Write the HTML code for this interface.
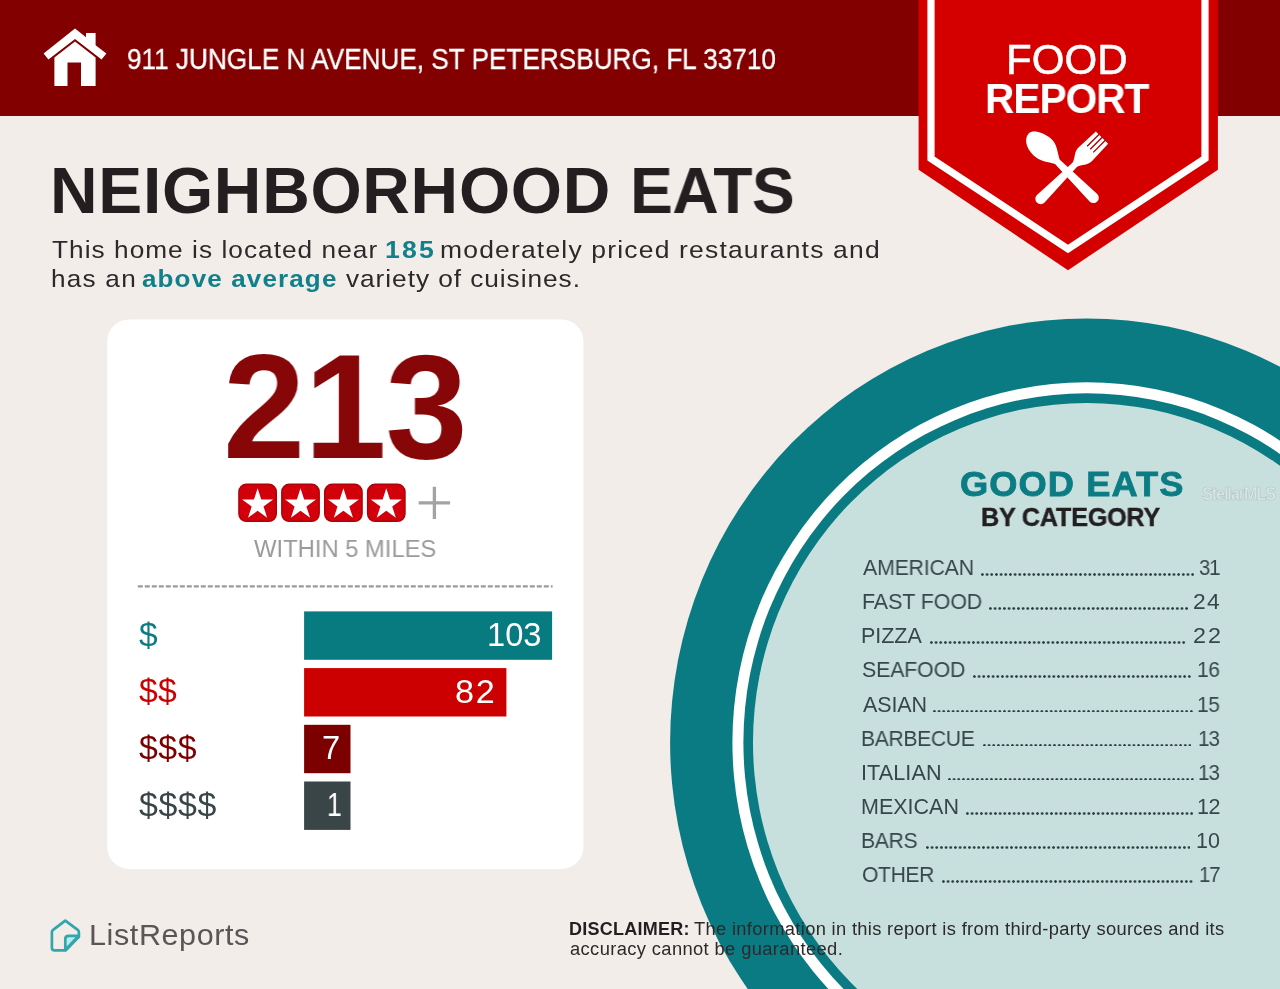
<!DOCTYPE html>
<html><head><meta charset="utf-8"><title>Food Report</title>
<style>
html,body{margin:0;padding:0}
body{width:1280px;height:989px;position:relative;overflow:hidden;background:#f2ede9;font-family:"Liberation Sans",sans-serif}
.t{position:absolute;white-space:nowrap;line-height:1;transform-origin:0 0;will-change:transform}
.a{position:absolute}
.dots{height:2.8px;background-image:radial-gradient(circle at 1.4px 1.4px,#2c4043 1.0px,rgba(44,64,67,0) 1.55px);background-size:4.675px 2.8px;background-repeat:repeat-x}
svg{position:absolute;left:0;top:0}
</style></head><body>
<svg width="1280" height="989" viewBox="0 0 1280 989">
<rect x="0" y="0" width="1280" height="116" fill="#830000"/>
<ellipse cx="1086.7" cy="742.5" rx="416.6" ry="424.1" fill="#0a7b82"/>
<ellipse cx="1086.7" cy="742.5" rx="354.3" ry="360.2" fill="#ffffff"/>
<ellipse cx="1086.7" cy="742.5" rx="343.3" ry="349.2" fill="#0a7b82"/>
<ellipse cx="1086.7" cy="742.5" rx="333.7" ry="339.4" fill="#c8e0dd"/>
<polygon points="918.6,0 918.6,169.8 1068,270.2 1217.9,169.8 1217.9,0" fill="#d40000"/>
<polyline points="931,-5 931,158.5 1068,248.9 1205,158.5 1205,-5" fill="none" stroke="#fff" stroke-width="7.2" stroke-linejoin="miter"/>
<g transform="translate(1067.6,171.9)">
<g transform="rotate(-45)"><path d="M0,-54.7 C5,-54.7 10.6,-46.5 11.8,-35.5 C12.5,-27 6.5,-21 3.2,-14.5 L5.4,36.5 A5.4,5.4 0 0 1 -5.4,36.5 L-3.2,-14.5 C-6.5,-21 -12.4,-27 -12.4,-36 C-12.4,-47 -7,-54.7 0,-54.7 Z" fill="#fff"/></g>
<g transform="rotate(45)"><path d="M-8.7,-48.6 L8.7,-48.6 L9.6,-25 C9.6,-18 4.5,-16 3.1,-10 L5.4,38 A5.4,5.4 0 0 1 -5.4,38 L-3.1,-10 C-4.5,-16 -9.6,-18 -9.6,-25 Z" fill="#fff"/>
<path d="M-4.35,-49 V-32 M0,-49 V-32 M4.35,-49 V-32" stroke="#a00008" stroke-width="1.3" fill="none"/></g>
</g>
<g fill="#fff"><path d="M75,28.5 L86,37.3 L86,33 L95.6,33 L95.6,45.2 L106.4,53.6 L101.6,59.6 L75,38.9 L48.4,59.6 L43.6,53.6 Z"/>
<path d="M54.4,57.6 L75,41.4 L95.6,57.6 L95.6,86 L81,86 L81,62.5 L67.5,62.5 L67.5,86 L54.4,86 Z"/></g>
<rect x="107.2" y="319.4" width="476.2" height="549.6" rx="22" ry="22" fill="#fff"/>
<line x1="137.8" y1="586.4" x2="552.6" y2="586.4" stroke="#9a9a9a" stroke-width="2.2" stroke-dasharray="5 2"/>
<rect x="304.1" y="611.4" width="248.0" height="48.4" fill="#087b81"/>
<rect x="304.1" y="668.1" width="202.3" height="48.4" fill="#cc0000"/>
<rect x="304.1" y="724.8" width="46.4" height="48.4" fill="#7d0000"/>
<rect x="304.1" y="781.5" width="46.4" height="48.4" fill="#3a4548"/>
<rect x="238.95" y="484.35" width="37.3" height="37" rx="7.5" ry="7.5" fill="#d2000a" stroke="#b00008" stroke-width="1.5"/>
<polygon points="257.60,488.30 261.26,499.56 273.10,499.56 263.52,506.52 267.18,517.79 257.60,510.83 248.02,517.79 251.68,506.52 242.10,499.56 253.94,499.56" fill="#fff"/>
<rect x="281.85" y="484.35" width="37.3" height="37" rx="7.5" ry="7.5" fill="#d2000a" stroke="#b00008" stroke-width="1.5"/>
<polygon points="300.50,488.30 304.16,499.56 316.00,499.56 306.42,506.52 310.08,517.79 300.50,510.83 290.92,517.79 294.58,506.52 285.00,499.56 296.84,499.56" fill="#fff"/>
<rect x="324.75" y="484.35" width="37.3" height="37" rx="7.5" ry="7.5" fill="#d2000a" stroke="#b00008" stroke-width="1.5"/>
<polygon points="343.40,488.30 347.06,499.56 358.90,499.56 349.32,506.52 352.98,517.79 343.40,510.83 333.82,517.79 337.48,506.52 327.90,499.56 339.74,499.56" fill="#fff"/>
<rect x="367.65" y="484.35" width="37.3" height="37" rx="7.5" ry="7.5" fill="#d2000a" stroke="#b00008" stroke-width="1.5"/>
<polygon points="386.30,488.30 389.96,499.56 401.80,499.56 392.22,506.52 395.88,517.79 386.30,510.83 376.72,517.79 380.38,506.52 370.80,499.56 382.64,499.56" fill="#fff"/>
<path d="M418.7,502.9 H450.1 M434.4,486.7 V519" stroke="#a3a3a3" stroke-width="3.3" fill="none"/>
<path d="M65.3,920.6 L77.7,929.8 Q78.9,930.7 78.9,932.2 L78.9,936.8 L65.8,950.4 L54.6,950.4 Q51.9,950.4 51.9,947.7 L51.9,932.2 Q51.9,930.7 53.1,929.8 Z" fill="none" stroke="#31a6ac" stroke-width="2.7" stroke-linejoin="round"/>
<path d="M78.6,935.8 L68.5,935.8 Q65.3,935.8 65.3,939 L65.3,950 Z" fill="#b4ecf0" stroke="#31a6ac" stroke-width="2.7" stroke-linejoin="round"/>
</svg>
<div class="t" style="left:127.36px;top:45.42px;font-size:28.92px;letter-spacing:0.000px;transform:scaleX(0.9049);color:#fff;-webkit-text-stroke:0.3px #fff;">911 JUNGLE N AVENUE, ST PETERSBURG, FL 33710</div>
<div class="t" style="left:1006.33px;top:39.04px;font-size:42.01px;letter-spacing:0.044px;transform:scaleX(1.0011);color:#fff;-webkit-text-stroke:0.55px #fff;">FOOD</div>
<div class="t" style="left:984.55px;top:78.04px;font-size:42.01px;letter-spacing:-1.077px;transform:scaleX(0.9686);color:#fff;font-weight:bold;">REPORT</div>
<div class="t" style="left:50.15px;top:157.98px;font-size:65.00px;letter-spacing:0.677px;transform:scaleX(1.0138);color:#231f20;font-weight:bold;">NEIGHBORHOOD</div>
<div class="t" style="left:629.76px;top:157.98px;font-size:65.00px;letter-spacing:-0.608px;transform:scaleX(0.9887);color:#231f20;font-weight:bold;">EATS</div>
<div class="t" style="left:51.91px;top:238.11px;font-size:24.20px;letter-spacing:0.962px;transform:scaleX(1.0836);color:#2d292a;">This home is located near</div>
<div class="t" style="left:385.33px;top:238.11px;font-size:24.20px;letter-spacing:1.933px;transform:scaleX(1.1013);color:#12808a;font-weight:bold;">185</div>
<div class="t" style="left:440.41px;top:238.11px;font-size:24.20px;letter-spacing:1.079px;transform:scaleX(1.0948);color:#2d292a;">moderately priced restaurants and</div>
<div class="t" style="left:50.67px;top:266.71px;font-size:24.20px;letter-spacing:1.133px;transform:scaleX(1.0816);color:#2d292a;">has an</div>
<div class="t" style="left:141.72px;top:266.71px;font-size:24.20px;letter-spacing:1.051px;transform:scaleX(1.0757);color:#12808a;font-weight:bold;">above average</div>
<div class="t" style="left:345.53px;top:266.71px;font-size:24.20px;letter-spacing:0.878px;transform:scaleX(1.0848);color:#2d292a;">variety of cuisines.</div>
<div class="t" style="left:222.73px;top:332.37px;font-size:149.00px;letter-spacing:-0.986px;transform:scaleX(0.9917);color:#870709;font-weight:bold;">213</div>
<div class="t" style="left:254.48px;top:537.20px;font-size:23.98px;letter-spacing:-0.053px;transform:scaleX(0.9962);color:#9a9a9a;">WITHIN 5 MILES</div>
<div class="t" style="left:139.27px;top:617.64px;font-size:33.50px;letter-spacing:-0.532px;transform:scaleX(0.9870);color:#0c7c84;">$</div>
<div class="t" style="left:139.26px;top:674.44px;font-size:33.50px;letter-spacing:0.316px;transform:scaleX(1.0037);color:#cc0000;">$$</div>
<div class="t" style="left:139.26px;top:731.14px;font-size:33.50px;letter-spacing:0.549px;transform:scaleX(1.0085);color:#7d0000;">$$$</div>
<div class="t" style="left:139.26px;top:787.84px;font-size:33.50px;letter-spacing:0.646px;transform:scaleX(1.0112);color:#3a4548;">$$$$</div>
<div class="t" style="left:487.05px;top:618.92px;font-size:32.66px;letter-spacing:-0.033px;transform:scaleX(0.9987);color:#fff;">103</div>
<div class="t" style="left:454.65px;top:675.72px;font-size:32.66px;letter-spacing:1.594px;transform:scaleX(1.0479);color:#fff;">82</div>
<div class="t" style="left:322.40px;top:732.42px;font-size:32.66px;letter-spacing:-0.284px;transform:scaleX(0.9809);color:#fff;">7</div>
<div class="t" style="left:326.64px;top:789.12px;font-size:32.66px;letter-spacing:-2.852px;transform:scaleX(0.7982);color:#fff;">1</div>
<div class="t" style="left:959.95px;top:467.37px;font-size:34.88px;letter-spacing:1.024px;transform:scaleX(1.0402);color:#0c7c84;font-weight:bold;-webkit-text-stroke:0.8px #0c7c84;">GOOD EATS</div>
<div class="t" style="left:981.00px;top:504.97px;font-size:25.44px;letter-spacing:-0.201px;transform:scaleX(0.9889);color:#231f20;font-weight:bold;-webkit-text-stroke:0.4px #231f20;">BY CATEGORY</div>
<div class="t" style="left:863.15px;top:558.09px;font-size:21.51px;letter-spacing:-0.172px;transform:scaleX(0.9892);color:#36474a;">AMERICAN</div>
<div class="t" style="left:1199.04px;top:558.09px;font-size:21.51px;letter-spacing:-1.314px;transform:scaleX(0.9404);color:#36474a;">31</div>
<div class="a dots" style="left:980.9px;top:573.0px;width:213.2px"></div>
<div class="t" style="left:862.43px;top:592.21px;font-size:21.51px;letter-spacing:-0.072px;transform:scaleX(0.9952);color:#36474a;">FAST FOOD</div>
<div class="t" style="left:1193.16px;top:592.21px;font-size:21.51px;letter-spacing:1.353px;transform:scaleX(1.0609);color:#36474a;">24</div>
<div class="a dots" style="left:989.2px;top:607.1px;width:199.2px"></div>
<div class="t" style="left:861.43px;top:626.33px;font-size:21.51px;letter-spacing:-0.045px;transform:scaleX(0.9970);color:#36474a;">PIZZA</div>
<div class="t" style="left:1192.53px;top:626.33px;font-size:21.51px;letter-spacing:1.857px;transform:scaleX(1.0855);color:#36474a;">22</div>
<div class="a dots" style="left:930.4px;top:641.2px;width:255.3px"></div>
<div class="t" style="left:862.24px;top:660.45px;font-size:21.51px;letter-spacing:-0.142px;transform:scaleX(0.9917);color:#36474a;">SEAFOOD</div>
<div class="t" style="left:1197.32px;top:660.45px;font-size:21.51px;letter-spacing:-0.481px;transform:scaleX(0.9775);color:#36474a;">16</div>
<div class="a dots" style="left:973.1px;top:675.4px;width:217.9px"></div>
<div class="t" style="left:863.15px;top:694.57px;font-size:21.51px;letter-spacing:-0.120px;transform:scaleX(0.9923);color:#36474a;">ASIAN</div>
<div class="t" style="left:1197.32px;top:694.57px;font-size:21.51px;letter-spacing:-0.508px;transform:scaleX(0.9763);color:#36474a;">15</div>
<div class="a dots" style="left:933.4px;top:709.5px;width:260.0px"></div>
<div class="t" style="left:861.46px;top:728.69px;font-size:21.51px;letter-spacing:-0.323px;transform:scaleX(0.9805);color:#36474a;">BARBECUE</div>
<div class="t" style="left:1198.26px;top:728.69px;font-size:21.51px;letter-spacing:-0.946px;transform:scaleX(0.9557);color:#36474a;">13</div>
<div class="a dots" style="left:982.8px;top:743.6px;width:208.6px"></div>
<div class="t" style="left:861.20px;top:762.81px;font-size:21.51px;letter-spacing:0.072px;transform:scaleX(1.0057);color:#36474a;">ITALIAN</div>
<div class="t" style="left:1198.26px;top:762.81px;font-size:21.51px;letter-spacing:-0.946px;transform:scaleX(0.9557);color:#36474a;">13</div>
<div class="a dots" style="left:948.4px;top:777.7px;width:246.0px"></div>
<div class="t" style="left:861.43px;top:796.93px;font-size:21.51px;letter-spacing:0.001px;transform:scaleX(1.0001);color:#36474a;">MEXICAN</div>
<div class="t" style="left:1197.32px;top:796.93px;font-size:21.51px;letter-spacing:-0.398px;transform:scaleX(0.9812);color:#36474a;">12</div>
<div class="a dots" style="left:966.1px;top:811.8px;width:227.3px"></div>
<div class="t" style="left:861.45px;top:831.05px;font-size:21.51px;letter-spacing:-0.306px;transform:scaleX(0.9835);color:#36474a;">BARS</div>
<div class="t" style="left:1196.39px;top:831.05px;font-size:21.51px;letter-spacing:-0.079px;transform:scaleX(0.9963);color:#36474a;">10</div>
<div class="a dots" style="left:925.6px;top:846.0px;width:264.7px"></div>
<div class="t" style="left:862.20px;top:865.17px;font-size:21.51px;letter-spacing:-0.359px;transform:scaleX(0.9804);color:#36474a;">OTHER</div>
<div class="t" style="left:1198.88px;top:865.17px;font-size:21.51px;letter-spacing:-1.177px;transform:scaleX(0.9444);color:#36474a;">17</div>
<div class="a dots" style="left:942.0px;top:880.1px;width:250.6px"></div>
<div class="t" style="left:569.38px;top:920.60px;font-size:17.60px;letter-spacing:0.257px;transform:scaleX(1.0228);color:#231f20;font-weight:bold;">DISCLAIMER:</div>
<div class="t" style="left:694.49px;top:920.60px;font-size:17.60px;letter-spacing:0.311px;transform:scaleX(1.0414);color:#2d292a;">The information in this report is from third-party sources and its</div>
<div class="t" style="left:569.82px;top:940.80px;font-size:17.60px;letter-spacing:0.359px;transform:scaleX(1.0418);color:#2d292a;">accuracy cannot be guaranteed.</div>
<div class="t" style="left:89.48px;top:920.35px;font-size:29.36px;letter-spacing:0.577px;transform:scaleX(1.0397);color:#5a5557;">ListReports</div>
<div class="t" style="left:1202.01px;top:485.25px;font-size:18.60px;letter-spacing:-1.292px;transform:scaleX(0.8773);color:rgba(228,238,238,0.75);font-weight:bold;-webkit-text-stroke:0.7px rgba(140,160,160,0.45);">StellarMLS</div>
</body></html>
